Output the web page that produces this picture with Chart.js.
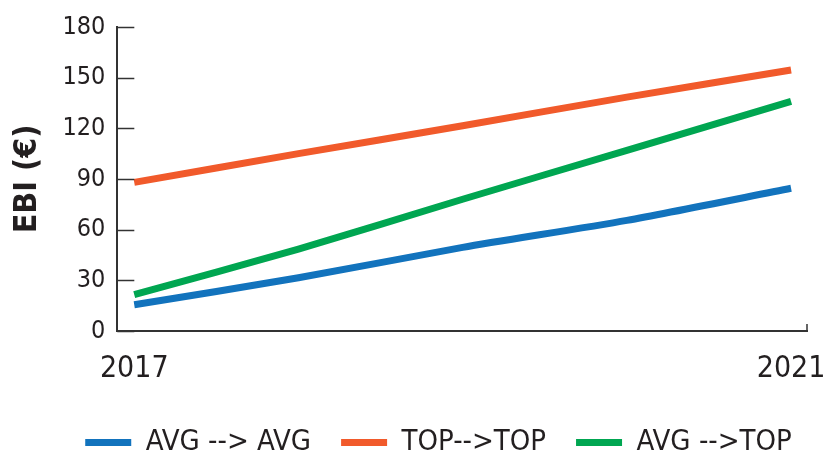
<!DOCTYPE html>
<html>
<head>
<meta charset="utf-8">
<script src="https://cdn.jsdelivr.net/npm/chart.js@4.4.1/dist/chart.umd.min.js"></script>
<style>
  html, body { margin: 0; padding: 0; background: #fff; }
  #wrap { width: 824px; height: 454px; }
</style>
</head>
<body>
<div id="wrap"><canvas id="chart"></canvas></div>
<script>
  // values
  var years = [2017, 2018, 2019, 2020, 2021];
  var avgAvg = [15.5, 31.5, 49.5, 65.5, 84.5];
  var topTop = [88, 105, 121.5, 138.5, 154.5];
  var avgTop = [21.5, 48.5, 78, 107, 136];
  var yTicks = [0, 30, 60, 90, 120, 150, 180];
  var xTicks = [2017, 2021];

  var FONT = "'DejaVu Sans Condensed', 'Liberation Sans Narrow', 'Roboto', sans-serif";
  var INK = '#231f20';

  function pts(vals) {
    return vals.map(function(v, i) { return { x: years[i], y: v }; });
  }

  // short inner ticks on the axes
  var innerTicks = {
    id: 'innerTicks',
    afterDraw: function(chart) {
      var ctx = chart.ctx, ys = chart.scales.y, xs = chart.scales.x;
      ctx.save();
      ctx.strokeStyle = '#333';
      ctx.lineWidth = 1.5;
      yTicks.forEach(function(t) {
        var py = Math.round(ys.getPixelForValue(t)) + 0.5;
        ctx.beginPath();
        ctx.moveTo(xs.left, py);
        ctx.lineTo(xs.left + 17, py);
        ctx.stroke();
      });
      ctx.beginPath();
      ctx.moveTo(xs.right, ys.bottom);
      ctx.lineTo(xs.right, ys.bottom - 7);
      ctx.stroke();
      ctx.restore();
    }
  };

  // legend sits a bit right of centre in the original
  var legendShift = {
    id: 'legendShift',
    afterLayout: function(chart) {
      if (chart.legend) {
        chart.legend.left += 31;
        chart.legend.right += 31;
      }
    }
  };

  new Chart(document.getElementById('chart'), {
    type: 'line',
    data: {
      datasets: [
        { label: 'AVG --> AVG', data: pts(avgAvg), borderColor: '#1273bd', backgroundColor: '#1273bd' },
        { label: 'TOP-->TOP', data: pts(topTop), borderColor: '#f15a2b', backgroundColor: '#f15a2b' },
        { label: 'AVG -->TOP', data: pts(avgTop), borderColor: '#00a651', backgroundColor: '#00a651' }
      ]
    },
    options: {
      responsive: true,
      maintainAspectRatio: false,
      animation: false,
      layout: { padding: { left: 8, right: 17, top: 7, bottom: -13 } },
      elements: {
        line: { borderWidth: 7, tension: 0.25, borderCapStyle: 'butt' },
        point: { radius: 0 }
      },
      plugins: {
        tooltip: { enabled: false },
        legend: {
          position: 'bottom',
          labels: {
            boxWidth: 46,
            boxHeight: 7,
            padding: 30,
            color: INK,
            font: { family: FONT, size: 29 },
            generateLabels: function(chart) {
              var items = Chart.defaults.plugins.legend.labels.generateLabels(chart);
              items.forEach(function(it) { it.lineWidth = 0; });
              return items;
            }
          }
        }
      },
      scales: {
        x: {
          type: 'linear',
          min: 2016.897,
          max: 2021.097,
          afterBuildTicks: function(scale) {
            scale.ticks = xTicks.map(function(v) { return { value: v }; });
          },
          afterFit: function(scale) {
            scale.paddingLeft = 0;
            scale.paddingRight = 0;
            scale.height -= 9;
          },
          grid: { display: false, drawTicks: false },
          border: { display: true, color: '#333', width: 2 },
          ticks: {
            padding: 20,
            color: INK,
            font: { family: FONT, size: 30 },
            callback: function(v) { return String(v); },
            maxRotation: 0
          }
        },
        y: {
          min: 0,
          max: 180,
          afterBuildTicks: function(scale) {
            scale.ticks = yTicks.map(function(v) { return { value: v }; });
          },
          grid: { display: false, drawTicks: false },
          border: { display: true, color: '#333', width: 2 },
          ticks: {
            padding: 12,
            color: INK,
            font: { family: FONT, size: 25 }
          },
          title: {
            display: true,
            text: 'EBI (€)',
            color: INK,
            padding: { top: 0, bottom: 4 },
            font: { family: FONT, size: 32, weight: 'bold' }
          }
        }
      }
    },
    plugins: [innerTicks, legendShift]
  });
</script>
</body>
</html>
